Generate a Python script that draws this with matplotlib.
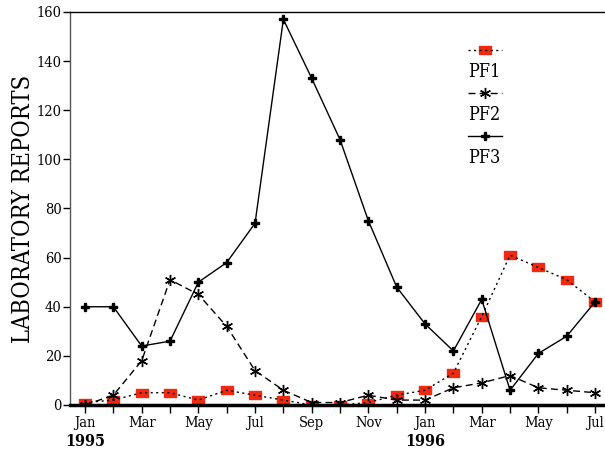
import matplotlib.pyplot as plt
from matplotlib.lines import Line2D

plt.rcParams['font.family'] = ['DejaVu Serif']
plt.rcParams['font.stretch'] = 'condensed'

months = ['Jan', 'Feb', 'Mar', 'Apr', 'May', 'Jun', 'Jul', 'Aug', 'Sep', 'Oct',
          'Nov', 'Dec', 'Jan', 'Feb', 'Mar', 'Apr', 'May', 'Jun', 'Jul']
pf1 = [1, 2, 5, 5, 2, 6, 4, 2, 0, 0, 1, 4, 6, 13, 36, 61, 56, 51, 42]
pf2 = [0, 4, 18, 51, 45, 32, 14, 6, 1, 1, 4, 2, 2, 7, 9, 12, 7, 6, 5]
pf3 = [40, 40, 24, 26, 50, 58, 74, 157, 133, 108, 75, 48, 33, 22, 43, 6, 21, 28, 42]
years = ['1995', '1996']
year_pos = [0, 12]
names = ['PF1', 'PF2', 'PF3']
red = '#f02a10'

x = list(range(len(months)))
rect = [(-1, -0.72), (1, -0.72), (1, 0.72), (-1, 0.72), (-1, -0.72)]

fig = plt.figure(figsize=(6.05, 4.53), dpi=100)
ax = fig.add_axes([70/605, 48/453, 535/605, 393/453])

# PF1: red squares under a black dotted line
ax.plot(x, pf1, ls='none', marker=rect, ms=8, mfc=red, mec=red, zorder=2)
ax.plot(x, pf1, ls=(0, (1.5, 2.5)), color='black', lw=1.0, zorder=3)
# PF2: dashed with asterisks
ax.plot(x, pf2, ls=(0, (5, 3)), color='black', lw=1.0,
        marker=(6, 2, 0), ms=8, mew=1.0, zorder=3)
# PF3: solid with filled plus
ax.plot(x, pf3, ls='-', color='black', lw=1.0, marker='P', ms=6, zorder=4)

ax.set_xlim(-0.53, 18.35)
ax.set_ylim(0, 160)
ax.set_yticks(range(0, 161, 20))
ax.set_xticks(x)
ax.set_xticklabels([m if i % 2 == 0 else '' for i, m in enumerate(months)])
ax.tick_params(axis='x', direction='out', length=6, width=1, pad=2, labelsize=10.5)
ax.tick_params(axis='y', direction='out', length=5, width=1, pad=1, labelsize=10.5)

ax.spines['right'].set_visible(False)
ax.spines['left'].set_color('#555555')
ax.spines['left'].set_linewidth(1.0)
ax.spines['bottom'].set_linewidth(2.5)
ax.spines['top'].set_linewidth(1.0)

ax.set_ylabel('LABORATORY REPORTS', fontsize=17, labelpad=1)

for yr, p in zip(years, year_pos):
    ax.annotate(yr, (p, 0), xycoords=('data', 'axes fraction'),
                xytext=(0, -26), textcoords='offset points', ha='center',
                va='center', fontsize=11.5, fontweight='bold')

# legend: sample line above each label
styles = [dict(marker=rect, ms=8, mfc=red, mec=red),
          dict(marker=(6, 2, 0), ms=8),
          dict(marker='P', ms=6)]
lstyles = [(0, (1.5, 2.5)), (0, (5, 3)), '-']
for i, (st, ls, nm) in enumerate(zip(styles, lstyles, names)):
    ly = 1 - (50 - 12 + i * 43) / 393
    ty = 1 - (72 - 12 + i * 43) / 393
    ax.add_line(Line2D([398/535, 432/535], [ly, ly], transform=ax.transAxes,
                       color='black', lw=1.0, ls=ls, clip_on=False, zorder=5))
    ax.plot([415/535], [ly], transform=ax.transAxes, color='black', ls='none',
            clip_on=False, zorder=4, **st)
    ax.text(398/535, ty, nm, transform=ax.transAxes, ha='left', va='center',
            fontsize=13)

fig.savefig('out.png', dpi=100)
